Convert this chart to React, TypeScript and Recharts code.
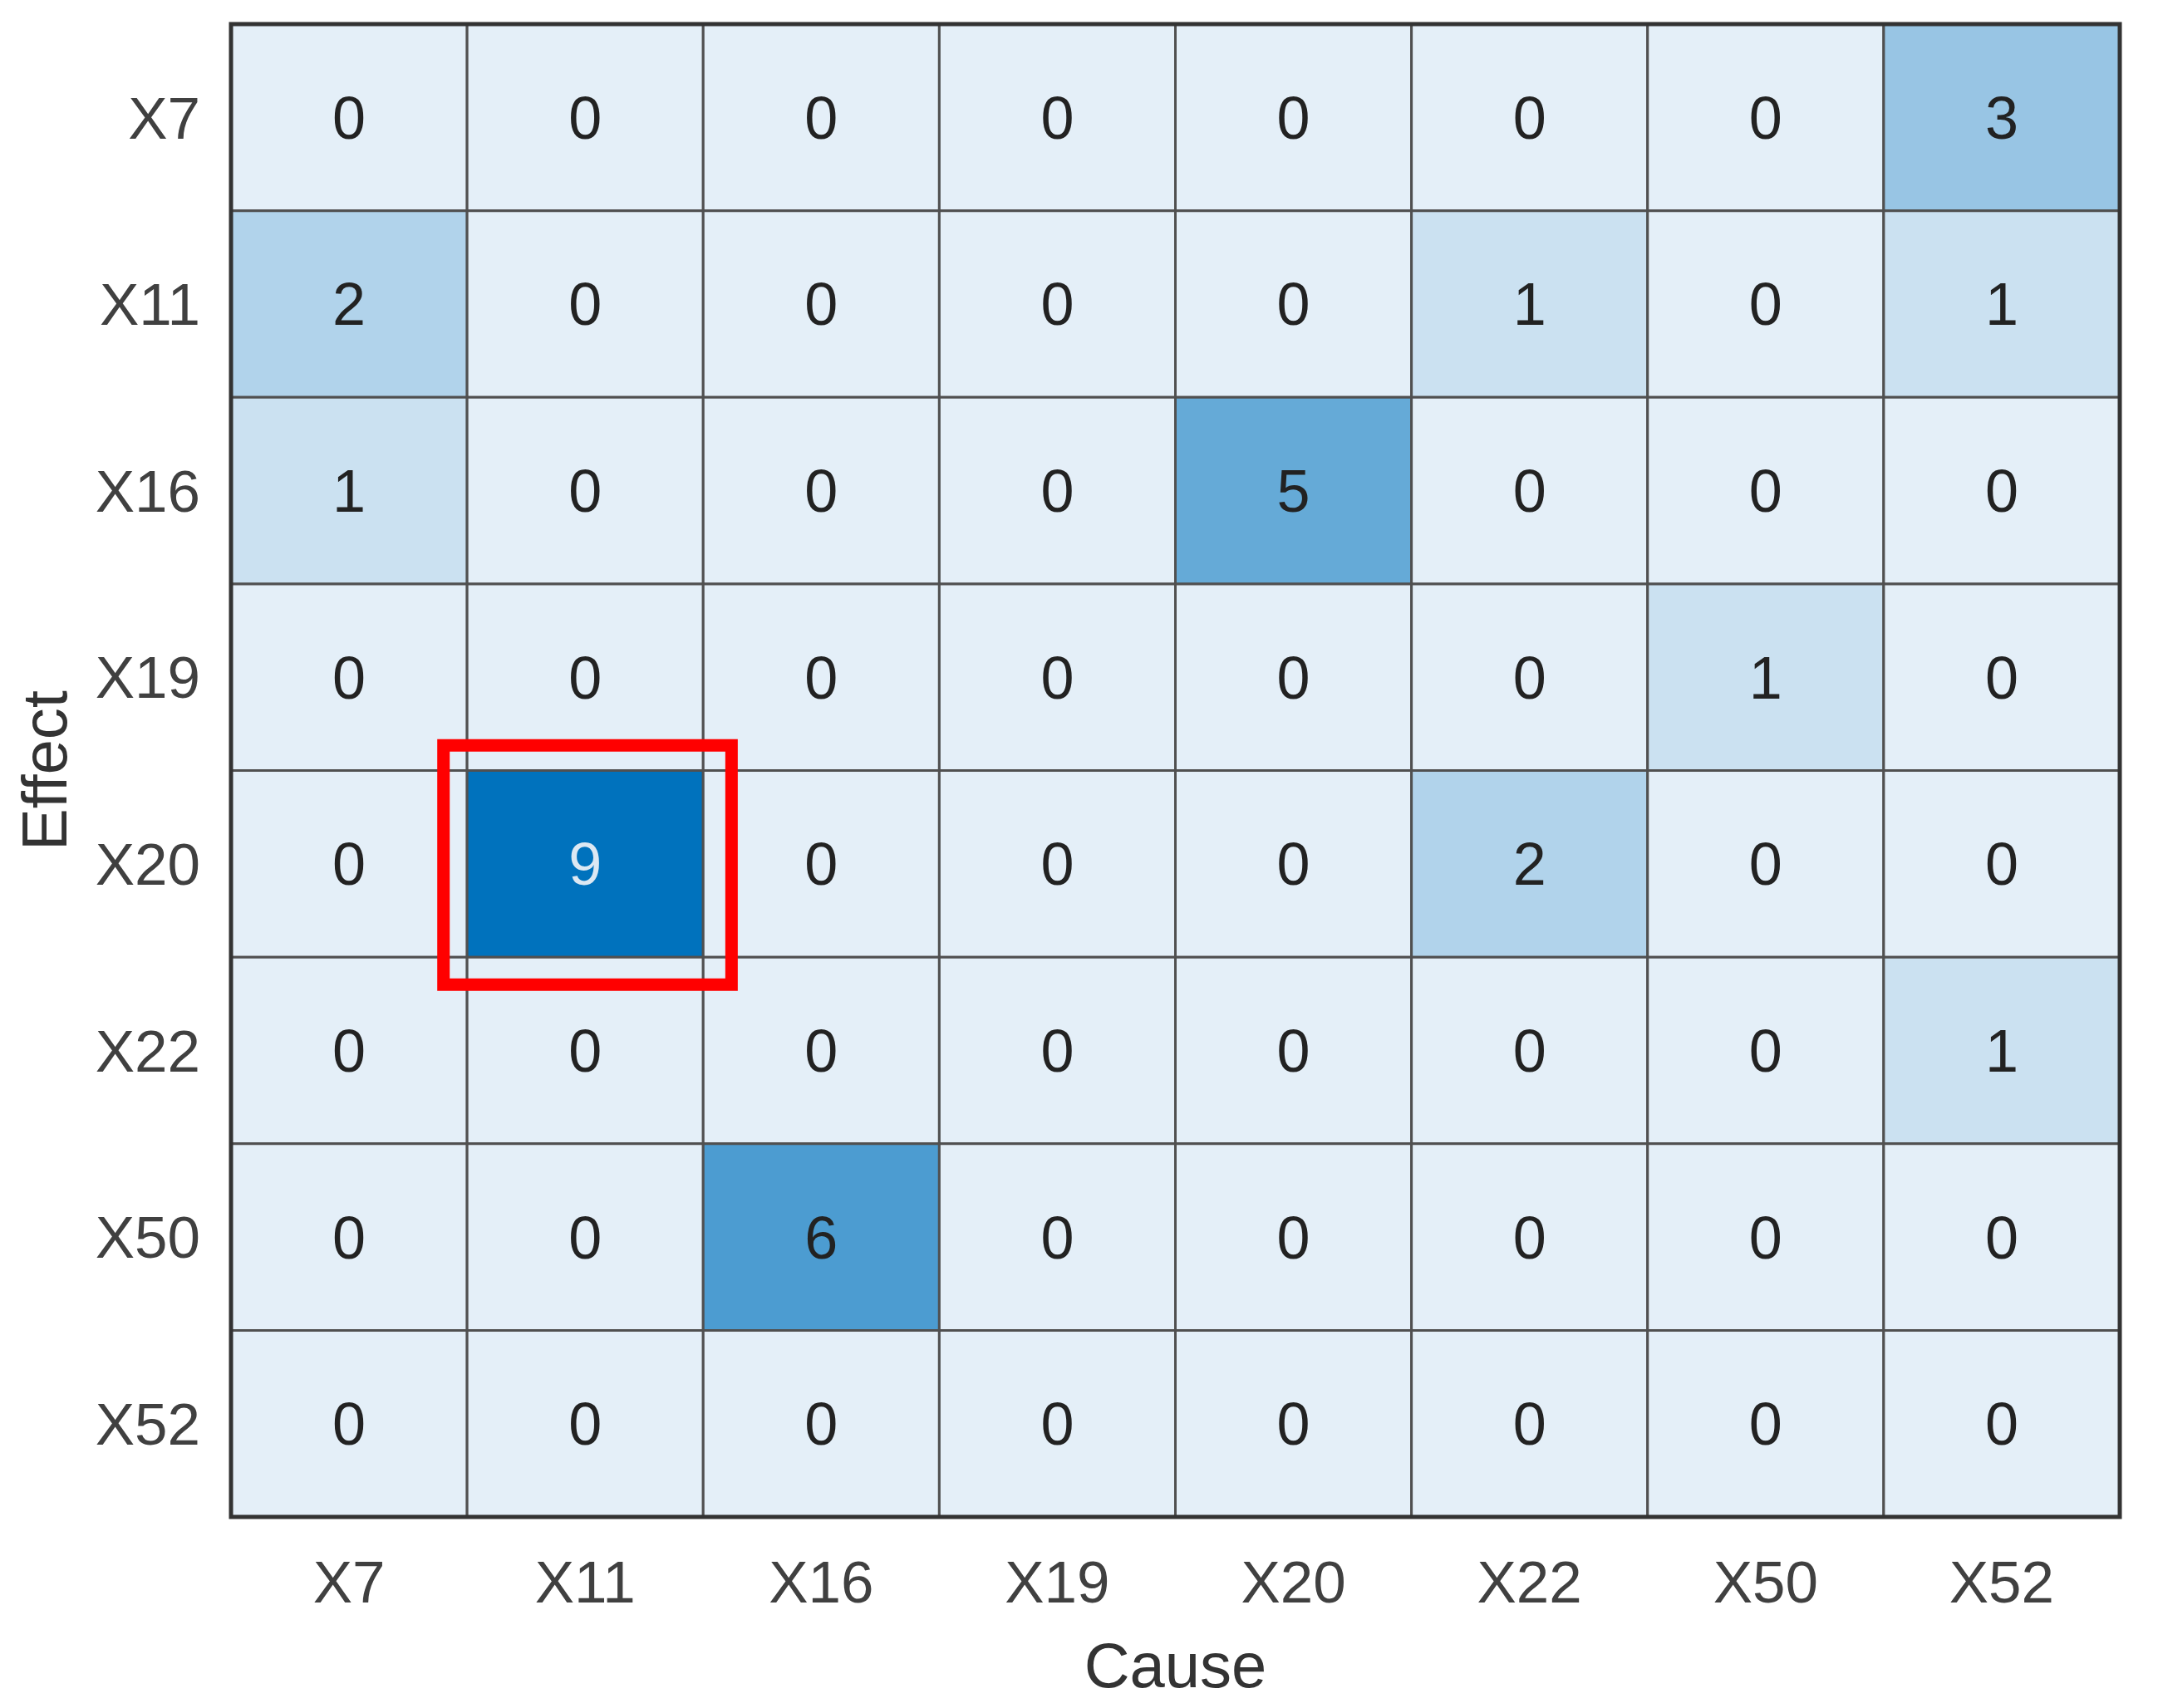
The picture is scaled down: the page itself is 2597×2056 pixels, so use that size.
import React from 'react';
import { ComposedChart, XAxis, YAxis, ReferenceArea } from 'recharts';

// Causes along the bottom, effects down the side
const causes = ['X7', 'X11', 'X16', 'X19', 'X20', 'X22', 'X50', 'X52'];
const effects = ['X7', 'X11', 'X16', 'X19', 'X20', 'X22', 'X50', 'X52'];

// one row per effect, one column per cause
const rowX7 = [0, 0, 0, 0, 0, 0, 0, 3];
const rowX11 = [2, 0, 0, 0, 0, 1, 0, 1];
const rowX16 = [1, 0, 0, 0, 5, 0, 0, 0];
const rowX19 = [0, 0, 0, 0, 0, 0, 1, 0];
const rowX20 = [0, 9, 0, 0, 0, 2, 0, 0];
const rowX22 = [0, 0, 0, 0, 0, 0, 0, 1];
const rowX50 = [0, 0, 6, 0, 0, 0, 0, 0];
const rowX52 = [0, 0, 0, 0, 0, 0, 0, 0];

const counts = [rowX7, rowX11, rowX16, rowX19, rowX20, rowX22, rowX50, rowX52];

// highlighted cell
const highlight = { cause: 'X11', effect: 'X20' };

const FONT = '"Liberation Sans", Arial, Helvetica, sans-serif';
const LOW = [228, 239, 248];
const HIGH = [0, 114, 189];

const maxCount = Math.max(...counts.flat());

function cellColor(v: number) {
  const t = maxCount ? v / maxCount : 0;
  const c = LOW.map((lo, i) => Math.round(lo + (HIGH[i] - lo) * t));
  return `rgb(${c[0]},${c[1]},${c[2]})`;
}

const cells = effects.flatMap((effect, r) =>
  causes.map((cause, c) => ({ cause, effect, col: c, row: r, value: counts[r][c] }))
);

const tickPos = causes.map((_, i) => i + 0.5);

export default function App() {
  const hc = causes.indexOf(highlight.cause);
  const hr = effects.indexOf(highlight.effect);

  return (
    <div style={{ width: 2581, height: 2040, background: '#fff' }}>
      <ComposedChart
        width={2581}
        height={2040}
        data={cells}
        margin={{ top: 21, right: 38, left: 0, bottom: 82 }}
      >
        <XAxis
          type="number"
          dataKey="col"
          domain={[0, 8]}
          ticks={tickPos}
          interval={0}
          tickFormatter={(v: number) => causes[Math.floor(v)]}
          axisLine={false}
          tickLine={false}
          tickSize={0}
          tickMargin={53}
          height={140}
          tick={{ fill: '#404040', fontSize: 71, fontFamily: FONT }}
          label={{
            content: (p: any) => {
              const vb = p.viewBox;
              return (
                <text
                  x={vb.x + vb.width / 2}
                  y={1996}
                  textAnchor="middle"
                  dominantBaseline="central"
                  fill="#333"
                  fontSize={76}
                  fontFamily={FONT}
                >
                  Cause
                </text>
              );
            },
          }}
        />
        <YAxis
          type="number"
          dataKey="row"
          domain={[0, 8]}
          reversed
          ticks={tickPos}
          interval={0}
          tickFormatter={(v: number) => effects[Math.floor(v)]}
          axisLine={false}
          tickLine={false}
          tickSize={0}
          tickMargin={37}
          width={270}
          tick={{ fill: '#404040', fontSize: 71, fontFamily: FONT }}
          label={{
            content: (p: any) => {
              const vb = p.viewBox;
              const cy = vb.y + vb.height / 2;
              return (
                <text
                  x={45}
                  y={cy}
                  transform={`rotate(-90, 45, ${cy})`}
                  textAnchor="middle"
                  dominantBaseline="central"
                  fill="#333"
                  fontSize={76}
                  fontFamily={FONT}
                >
                  Effect
                </text>
              );
            },
          }}
        />
        {cells.map((d) => (
          <ReferenceArea
            key={`${d.effect}-${d.cause}`}
            x1={d.col}
            x2={d.col + 1}
            y1={d.row}
            y2={d.row + 1}
            fill={cellColor(d.value)}
            fillOpacity={1}
            stroke="#505050"
            strokeWidth={3}
            label={{
              value: String(d.value),
              position: 'center',
              fill: d.value / maxCount > 0.7 ? '#dce8f3' : '#222',
              fontSize: 72,
              fontFamily: FONT,
            }}
          />
        ))}
        {/* outer frame */}
        <ReferenceArea
          x1={0}
          x2={8}
          y1={0}
          y2={8}
          fill="none"
          stroke="#333"
          strokeWidth={5}
        />
        {/* red box round the strongest link */}
        <ReferenceArea
          x1={hc - 0.1}
          x2={hc + 1.12}
          y1={hr - 0.135}
          y2={hr + 1.147}
          fill="none"
          stroke="#ff0000"
          strokeWidth={15}
        />
      </ComposedChart>
    </div>
  );
}
